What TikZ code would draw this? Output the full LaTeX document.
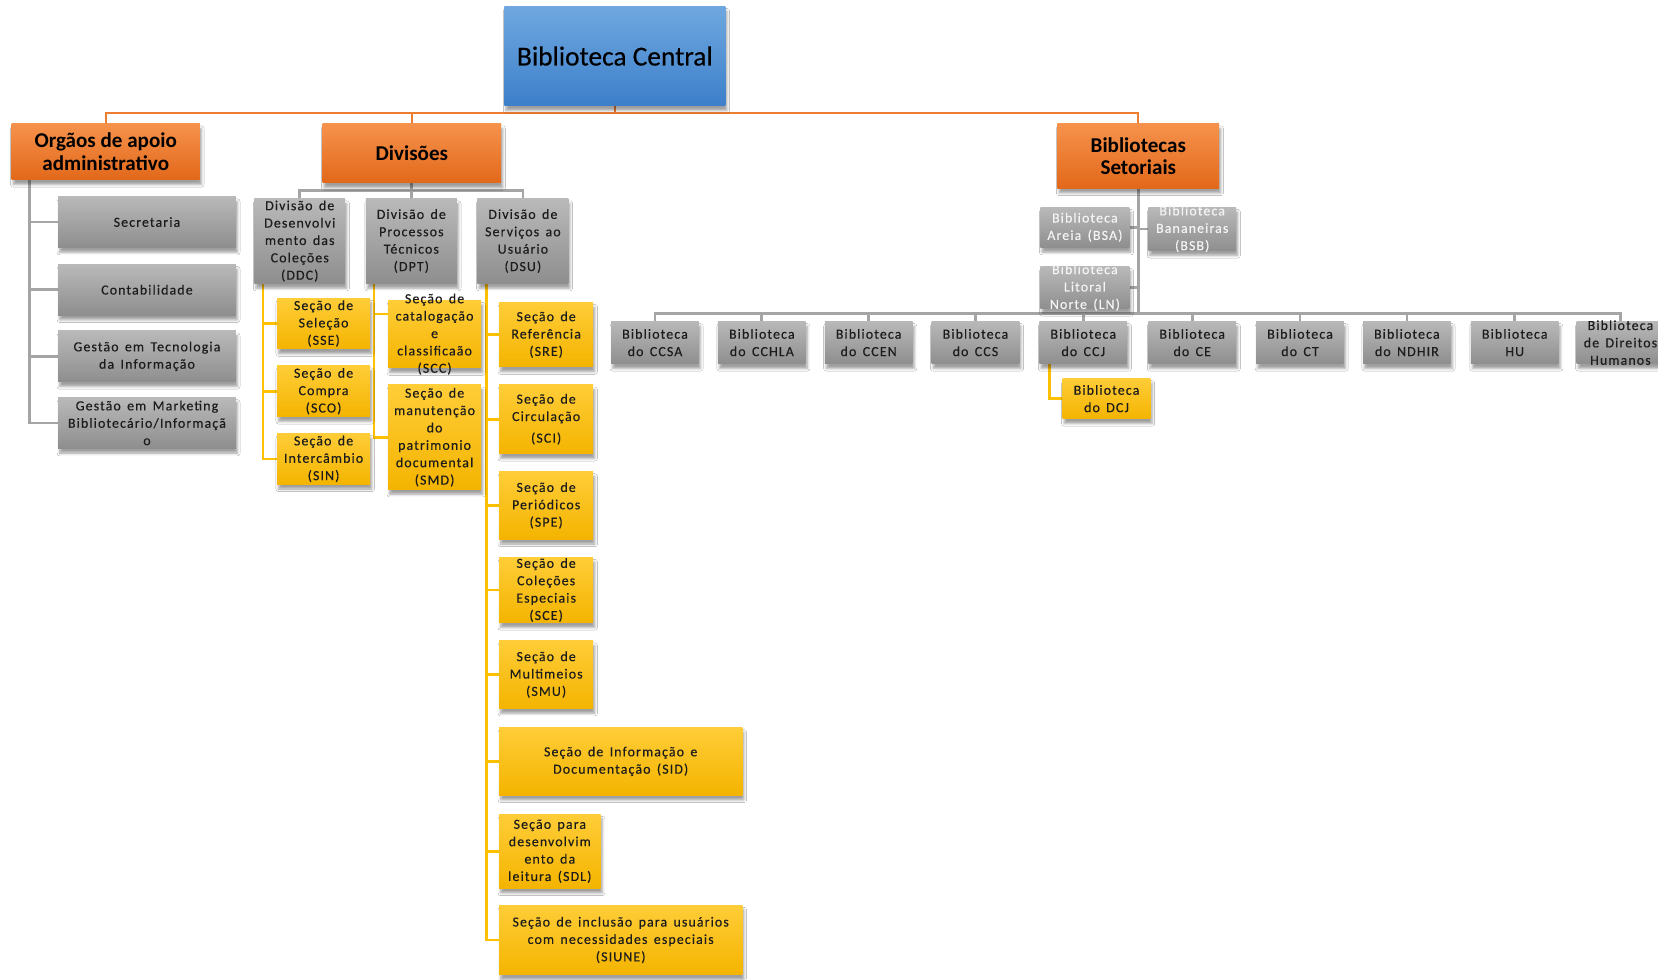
\documentclass[tikz,border=0pt]{standalone}
\usepackage{fontspec}
\setmainfont{Carlito}
\newfontfamily\sfont[WordSpace=1.5,LetterSpace=8,FakeBold=0.3]{Carlito}
\newfontfamily\tfont[FakeBold=0.4]{Carlito}
\usetikzlibrary{shadows.blur,backgrounds}
\definecolor{bluetop}{HTML}{6FA8E0}
\definecolor{bluebot}{HTML}{3D7FC9}
\definecolor{ortop}{HTML}{F6924C}
\definecolor{orbot}{HTML}{E2681A}
\definecolor{grtop}{HTML}{B9B9B9}
\definecolor{grbot}{HTML}{8E8E8E}
\definecolor{yetop}{HTML}{FFCD38}
\definecolor{yebot}{HTML}{F4B400}
\definecolor{orline}{HTML}{ED7D31}
\definecolor{grline}{HTML}{A5A5A5}
\definecolor{yeline}{HTML}{FFC000}
\definecolor{txtdark}{HTML}{1C1C1C}
\definecolor{txtlight}{HTML}{F4F4F4}
\begin{document}
\begin{tikzpicture}[x=1bp,y=-1bp,
  sz/.style 2 args={minimum width=#1bp,minimum height=#2bp},
  shd/.style={blur shadow={shadow xshift=1.5bp,shadow yshift=-4.5bp,shadow blur radius=2.5bp,shadow opacity=38}},
  base/.style={rectangle,inner sep=0pt,shd},
  bluebox/.style={base,top color=bluetop,bottom color=bluebot},
  orbox/.style={base,top color=ortop,bottom color=orbot},
  grbox/.style={base,top color=grtop,bottom color=grbot},
  yebox/.style={base,top color=yetop,bottom color=yebot},
  lbl/.style={align=center,inner sep=0pt,font=\sfont\fontsize{13.2}{16.5}\selectfont,text=txtdark},
  wlbl/.style={lbl,text=txtlight},
  olbl/.style={align=center,inner sep=0pt,font=\bfseries\fontsize{20}{21}\selectfont,text=black},
  tlbl/.style={align=center,inner sep=0pt,font=\tfont\fontsize{26}{28}\selectfont,text=black},
  oline/.style={draw=orline,line width=2.2bp},
  gline/.style={draw=grline,line width=2.6bp},
  yline/.style={draw=yeline,line width=2.6bp},
]
\useasboundingbox (0,0) rectangle (1568,926);
% top level
\node[bluebox,sz={209}{94},label={[tlbl]center:Biblioteca Central}] (central) at (581.5,53) {};
\node[orbox,sz={178}{53},label={[olbl]center:{Orgãos de apoio\\administrativo}}] (org) at (100,143.5) {};
\node[orbox,sz={169}{56},label={[olbl]center:Divisões}] (div) at (389.5,145) {};
\node[orbox,sz={153}{61},label={[olbl]center:{Bibliotecas\\Setoriais}}] (bs) at (1076.5,147.5) {};
% administrative
\node[grbox,sz={168}{48},label={[lbl]center:Secretaria}] (sec) at (139,210) {};
\node[grbox,sz={168}{48},label={[lbl]center:Contabilidade}] (con) at (139,274) {};
\node[grbox,sz={168}{48},label={[lbl]center:{Gestão em Tecnologia\\da Informação}}] (gti) at (139,337) {};
\node[grbox,sz={168}{48},label={[lbl]center:{Gestão em Marketing\\Bibliotecário/Informaçã\\o}}] (gmb) at (139,400) {};
% divisions
\node[grbox,sz={86}{80},label={[lbl]center:{Divisão de\\Desenvolvi\\mento das\\Coleções\\(DDC)}}] (ddc) at (283.5,228) {};
\node[grbox,sz={86}{80},label={[lbl]center:{Divisão de\\Processos\\Técnicos\\(DPT)}}] (dpt) at (389,228) {};
\node[grbox,sz={86}{80},label={[lbl]center:{Divisão de\\Serviços ao\\Usuário\\(DSU)}}] (dsu) at (494.5,228) {};
% DDC sections
\node[yebox,sz={88}{48},label={[lbl]center:{Seção de\\Seleção\\(SSE)}}] (sse) at (306,306) {};
\node[yebox,sz={88}{48},label={[lbl]center:{Seção de\\Compra\\(SCO)}}] (sco) at (306,370) {};
\node[yebox,sz={88}{48},label={[lbl]center:{Seção de\\Intercâmbio\\(SIN)}}] (sin) at (306,434) {};
% DPT sections
\node[yebox,sz={88}{64},label={[lbl]center:{Seção de\\catalogação\\e\\classificaão\\(SCC)}}] (scc) at (411,316) {};
\node[yebox,sz={88}{99},label={[lbl]center:{Seção de\\manutenção\\do\\patrimonio\\documental\\(SMD)}}] (smd) at (411,413.5) {};
% DSU sections
\node[yebox,sz={89}{61},label={[lbl]center:{Seção de\\Referência\\(SRE)}}] (sre) at (516.5,316.5) {};
\node[yebox,sz={89}{65},label={[lbl]center:{Seção de\\Circulação\\[4bp](SCI)}}] (sci) at (516.5,396.5) {};
\node[yebox,sz={89}{64},label={[lbl]center:{Seção de\\Periódicos\\(SPE)}}] (spe) at (516.5,478) {};
\node[yebox,sz={89}{62},label={[lbl]center:{Seção de\\Coleções\\Especiais\\(SCE)}}] (sce) at (516.5,558) {};
\node[yebox,sz={89}{64},label={[lbl]center:{Seção de\\Multimeios\\(SMU)}}] (smu) at (516.5,638) {};
\node[yebox,sz={230}{64},label={[lbl]center:{Seção de Informação e\\Documentação (SID)}}] (sid) at (587,720) {};
\node[yebox,sz={96}{70},label={[lbl]center:{Seção para\\desenvolvim\\ento da\\leitura (SDL)}}] (sdl) at (520,805) {};
\node[yebox,sz={230}{66},label={[lbl]center:{Seção de inclusão para usuários\\com necessidades especiais\\(SIUNE)}}] (siune) at (587,889) {};
% sector libraries
\node[grbox,sz={84}{38},label={[wlbl]center:{Biblioteca\\Areia (BSA)}}] (bsa) at (1026,215) {};
\node[grbox,sz={83}{41},label={[wlbl]center:{Biblioteca\\Bananeiras\\(BSB)}}] (bsb) at (1127.5,216.5) {};
\node[grbox,sz={84}{40},label={[wlbl]center:{Biblioteca\\Litoral\\Norte (LN)}}] (ln) at (1026,272) {};
\node[grbox,sz={83}{40},label={[lbl]center:{Biblioteca\\do CCSA}}] (ccsa) at (619.5,324) {};
\node[grbox,sz={83}{40},label={[lbl]center:{Biblioteca\\do CCHLA}}] (cchla) at (720.5,324) {};
\node[grbox,sz={83}{40},label={[lbl]center:{Biblioteca\\do CCEN}}] (ccen) at (821.5,324) {};
\node[grbox,sz={83}{40},label={[lbl]center:{Biblioteca\\do CCS}}] (ccs) at (922.5,324) {};
\node[grbox,sz={83}{40},label={[lbl]center:{Biblioteca\\do CCJ}}] (ccj) at (1024.5,324) {};
\node[grbox,sz={83}{40},label={[lbl]center:{Biblioteca\\do CE}}] (ce) at (1127.5,324) {};
\node[grbox,sz={83}{40},label={[lbl]center:{Biblioteca\\do CT}}] (ct) at (1229.5,324) {};
\node[grbox,sz={83}{40},label={[lbl]center:{Biblioteca\\do NDHIR}}] (ndhir) at (1330.5,324) {};
\node[grbox,sz={83}{40},label={[lbl]center:{Biblioteca\\HU}}] (hu) at (1432.5,324) {};
\node[grbox,sz={83}{40},label={[lbl]center:{Biblioteca\\de Direitos\\Humanos}}] (dh) at (1532.5,324) {};
\node[yebox,sz={83}{38},label={[lbl]center:{Biblioteca\\do DCJ}}] (dcj) at (1046.5,377) {};
% connectors
\begin{scope}[on background layer]
\fill[white] (0,0) rectangle (1568,926);
\draw[oline] (central.south) -- ++(0,7);
\draw[oline] (org.north) -- ++(0,-10) -| (bs.north);
\draw[oline] (div.north) -- ++(0,-10);
\draw[gline] (org.south west) ++(17,0) coordinate (lv) |- (gmb.west)
  (lv |- sec.west) -- (sec.west) (lv |- con.west) -- (con.west) (lv |- gti.west) -- (gti.west);
\draw[gline] (div.south) -- ++(0,7) coordinate (db);
\draw[gline] (ddc.north) |- (db) -| (dsu.north);
\draw[gline] (dpt.north) -- (dpt.north |- db);
\draw[yline] (ddc.south west) ++(8.5,0) coordinate (v1) |- (sin.west)
  (v1 |- sse.west) -- (sse.west) (v1 |- sco.west) -- (sco.west);
\draw[yline] (dpt.south west) ++(8,0) coordinate (v2) |- (smd.west)
  (v2 |- 0,297) -- (scc.west |- 0,297);
\draw[yline] (dsu.south west) ++(8.5,0) coordinate (v3) |- (siune.west)
  (v3 |- sre.west) -- (sre.west) (v3 |- sci.west) -- (sci.west)
  (v3 |- spe.west) -- (spe.west) (v3 |- sce.west) -- (sce.west)
  (v3 |- smu.west) -- (smu.west) (v3 |- sid.west) -- (sid.west)
  (v3 |- sdl.west) -- (sdl.west);
\draw[gline] (bs.south) -- ++(0,118) coordinate (sb);
\draw[gline] (bsa.east) -- (bsa.east -| sb) (bsb.west) -- (bsb.west -| sb) (ln.east) -- (ln.east -| sb);
\draw[gline] (ccsa.north) |- (sb) -| (dh.north);
\foreach \n in {cchla,ccen,ccs,ccj,ce,ct,ndhir,hu}
  \draw[gline] (\n.north) -- (\n.north |- sb);
\draw[yline] (ccj.south west) ++(10,0) |- (dcj.west);
\end{scope}
\end{tikzpicture}
\end{document}
